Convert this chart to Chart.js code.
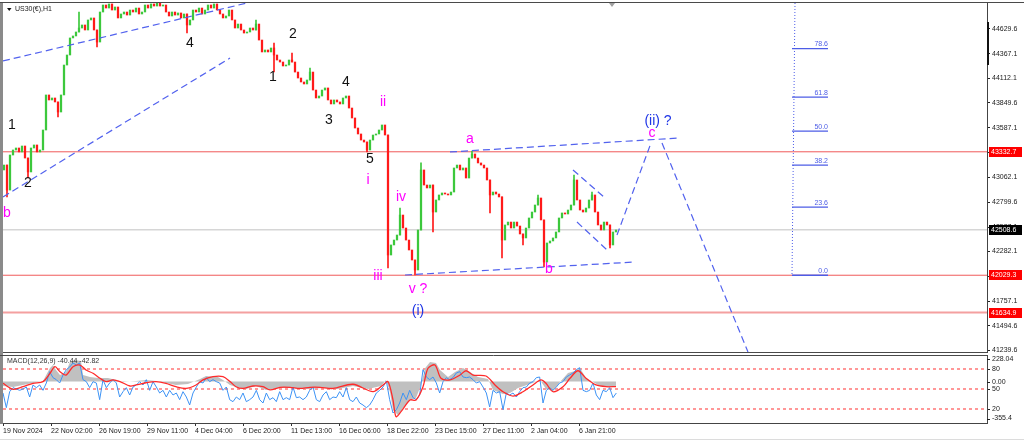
<!DOCTYPE html>
<html>
<head>
<meta charset="utf-8">
<script src="https://cdn.jsdelivr.net/npm/chart.js@4.4.1/dist/chart.umd.min.js"></script>
<style>
    body { margin: 0; background: #fff; width: 1024px; height: 441px; overflow: hidden; position: relative; }
    #main { position: absolute; left: 0; top: 0; }
    #macd { position: absolute; left: 0; top: 353px; }
</style>
</head>
<body>
<canvas id="main" width="1024" height="353"></canvas>
<canvas id="macd" width="1024" height="88"></canvas>
<script>
// ---------- data ----------
var dateLabels = ['19 Nov 2024', '22 Nov 02:00', '26 Nov 19:00', '29 Nov 11:00', '4 Dec 04:00', '6 Dec 20:00',
    '11 Dec 13:00', '16 Dec 06:00', '18 Dec 22:00', '23 Dec 15:00', '27 Dec 11:00', '2 Jan 04:00', '6 Jan 21:00'];
var BARS_PER_LABEL = 48;   // hourly bars between two date labels
var BARS_PER_CANDLE = 3;   // each drawn candle groups 3 hourly bars

var priceTicks = [44629.6, 44367.1, 44112.1, 43849.6, 43587.1, 43324.6, 43062.1, 42799.6, 42537.1,
    42282.1, 42019.6, 41757.1, 41494.6, 41239.6];

var firstOpen = 43141;
var closes = [
    43193, 42929, 43299, 43352, 43373, 43331, 43394, 43267, 43120, 43373,
    43405, 43331, 43352, 43563, 43933, 43880, 43901, 43859, 43753, 43933,
    44249, 44355, 44535, 44556, 44598, 44640, 44672, 44619, 44725, 44746,
    44619, 44492, 44809, 44883, 44851, 44894, 44830, 44862, 44746, 44788,
    44809, 44777, 44830, 44809, 44851, 44788, 44809, 44883, 44851, 44894,
    44872, 44904, 44872, 44883, 44809, 44767, 44809, 44777, 44799, 44746,
    44788, 44672, 44725, 44830, 44809, 44851, 44788, 44830, 44883, 44851,
    44894, 44830, 44788, 44746, 44767, 44830, 44725, 44640, 44682, 44619,
    44587, 44598, 44640, 44619, 44682, 44513, 44387, 44408, 44387, 44429,
    44355, 44302, 44281, 44239, 44249, 44302, 44281, 44175, 44112, 44070,
    44049, 44091, 44175, 43985, 43901, 43922, 43985, 44007, 43880, 43838,
    43880, 43859, 43838, 43901, 43922, 43795, 43690, 43584, 43521, 43457,
    43436, 43352, 43457, 43510, 43521, 43563, 43616, 43510, 42243, 42349,
    42401, 42454, 42665, 42528, 42401, 42296, 42190, 42085, 42507, 43141,
    42982, 42951, 42982, 42697, 42824, 42877, 42898, 42887, 42877, 42908,
    43162, 43193, 43141, 43162, 43056, 43267, 43310, 43267, 43215, 43193,
    43162, 43035, 42877, 42908, 42887, 42856, 42401, 42560, 42591, 42528,
    42591, 42549, 42465, 42423, 42528, 42634, 42697, 42771, 42845, 42613,
    42169, 42370, 42391, 42423, 42486, 42634, 42687, 42676, 42718, 42771,
    43035, 42824, 42718, 42697, 42739, 42824, 42877, 42697, 42560, 42507,
    42591, 42560, 42349, 42486, 42507
];
// long wicks, by candle number
var spikeLow = { 1: 42856, 8: 43056, 18: 43700, 31: 44440, 61: 44587, 90: 44175, 121: 43331, 128: 42106,
    137: 42032, 143: 42486, 162: 42687, 166: 42211, 173: 42349, 180: 42116, 202: 42317 };
var spikeHigh = { 25: 44809, 84: 44725, 90: 44482, 96: 44376, 102: 44218, 132: 42739, 139: 43215,
    156: 43341, 178: 42877, 190: 43088, 196: 42908 };

var redLevels = [43332.7, 42029.3];
var softRedLevel = 41634.9;
var lastPrice = 42508.6;

var fibLow = 42029.3, fibHigh = 45073;
var fibLevels = [0, 23.6, 38.2, 50, 61.8, 78.6];

// [ [bar, price], [bar, price] ]
var trendLines = [
    [[0, 44292], [244, 44904]],
    [[0, 42856], [227, 44323]],
    [[447, 43331], [677, 43479]],
    [[402, 42032], [632, 42169]],
    [[570, 43141], [602, 42845]],
    [[574, 42591], [604, 42296]],
    [[614, 42454], [648, 43426]],
    [[659, 43426], [745, 41219]]
];

// [text, bar, price, kind]
var waveLabels = [
    ['1', 9, 43616, 'black'], ['2', 25, 43003, 'black'], ['4', 187, 44482, 'black'],
    ['1', 270, 44123, 'black'], ['2', 290, 44577, 'black'], ['3', 326, 43669, 'black'],
    ['4', 343, 44070, 'black'], ['5', 367, 43257, 'black'],
    ['b', 4, 42686, 'pink'], ['ii', 380, 43859, 'pink'], ['i', 365, 43035, 'pink'],
    ['iv', 398, 42856, 'pink'], ['iii', 375, 42021, 'pink'], ['v ?', 415, 41884, 'pink'],
    ['a', 467, 43468, 'pink'], ['b', 546, 42095, 'pink'], ['c', 649, 43531, 'pink'],
    ['(i)', 415, 41652, 'blue'], ['(ii) ?', 655, 43658, 'blue']
];

// MACD window: [bar, value]
var macdMain = [[0, -38], [10, -47], [20, -29], [30, -12], [40, 5], [47, 117], [50, 142], [53, 99], [57, 56],
    [63, 82], [67, 168], [72, 185], [78, 177], [80, 56], [87, 39], [95, 31], [105, 31], [113, 14], [120, -3],
    [133, 5], [143, 14], [153, 5], [163, -12], [173, -29], [185, -21], [197, 22], [203, 48], [215, 39],
    [220, 14], [227, -29], [233, -47], [243, -64], [253, -38], [263, -72], [275, -55], [290, -55], [305, -64],
    [320, -55], [335, -64], [350, -38], [365, -64], [378, -38], [383, 14], [387, -89], [390, -244], [395, -287],
    [400, -227], [407, -158], [413, -141], [418, -29], [422, 114], [427, 168], [433, 159], [437, 99], [445, 39],
    [452, 82], [460, 117], [467, 82], [475, 39], [485, 22], [490, -72], [500, -107], [507, -98], [515, -55],
    [527, -21], [537, 14], [543, -64], [550, -81], [557, -3], [565, 74], [572, 91], [577, 117], [583, 31],
    [590, -3], [597, -38], [605, -47], [613, -40]];
var macdSignal = [[0, -15], [10, -66], [20, -44], [30, -15], [40, 0], [47, 71], [52, 128], [57, 85], [63, 56],
    [70, 128], [77, 142], [83, 99], [90, 71], [97, 28], [103, 0], [110, 14], [117, 0], [127, -38], [133, -29],
    [143, -10], [153, 0], [163, -15], [173, -44], [183, -59], [193, -29], [200, 14], [210, 42], [220, 42],
    [227, 0], [233, -44], [240, -59], [250, -38], [260, -44], [267, -72], [277, -49], [287, -49], [297, -59],
    [307, -49], [317, -49], [330, -59], [350, -23], [370, -87], [380, -29], [385, 0], [390, -158], [393, -301],
    [398, -258], [407, -158], [413, -158], [420, -44], [425, 114], [432, 142], [438, 28], [447, 14], [457, 56],
    [463, 93], [470, 56], [483, 48], [492, -29], [500, -87], [510, -124], [520, -87], [530, -29], [538, 14],
    [543, -15], [550, -87], [560, -44], [567, 28], [575, 93], [583, 28], [593, -29], [603, -44], [613, -43]];
var STOCH_STEP = 10 / 3;
var stochLine = [
    44, 22, 46, 52, 50, 48, 50, 53, 38, 56, 52, 56, 48, 59, 76, 67, 64, 59, 71, 79,
    83, 89, 86, 89, 64, 61, 52, 61, 59, 34, 64, 52, 59, 64, 59, 38, 46, 52, 41, 53,
    56, 61, 56, 64, 48, 61, 53, 44, 48, 38, 48, 41, 44, 34, 46, 38, 26, 44, 53, 61,
    59, 67, 61, 64, 61, 59, 48, 53, 34, 31, 38, 34, 44, 31, 34, 38, 48, 34, 29, 44,
    34, 37, 31, 46, 34, 37, 34, 53, 37, 38, 34, 38, 48, 53, 34, 31,
    41, 46, 34, 38, 37, 46, 38, 52, 34, 31, 38, 29, 26, 22, 26, 34, 44, 48, 53, 62,
    34, 14, 19, 29, 44, 34, 48, 37, 34, 41, 79, 68, 64, 68, 59, 44, 61, 67, 64, 67,
    74, 76, 68, 67, 68, 64, 59, 61, 53, 44, 23, 48, 44, 46, 19, 44, 41, 44, 38, 46,
    52, 53, 59, 61, 67, 68, 29, 48, 52, 48, 53, 59, 61, 68, 71, 74, 79, 82, 48, 46,
    48, 59, 41, 34, 48, 46, 52, 37, 44
];
var stochLevels = [80, 50, 20];
var macdAxisLabels = [228.04, 0, -355.4];

// ---------- look ----------
var FONT = '"Liberation Sans", Arial, sans-serif';
Chart.defaults.font.family = FONT;
Chart.defaults.font.size = 7;
Chart.defaults.color = '#1a1a1a';

var X_MAX = 984;
var PRICE_MIN = 41218.7, PRICE_MAX = 44904.1;
var waveColors = { black: '#111111', pink: '#ff00ff', blue: '#1f35e6' };
var UP = '#3cc83c', DOWN = '#ff1a1a', TREND = '#5262ee';

function noPad(s) { s.paddingTop = 0; s.paddingBottom = 0; s.paddingLeft = 0; s.paddingRight = 0; }

function seg(points, color, width, dash, order) {
    return {
        type: 'line',
        data: points.map(function (p) { return { x: p[0], y: p[1] }; }),
        borderColor: color, borderWidth: width, borderDash: dash || [],
        pointRadius: 0, fill: false, tension: 0, order: order
    };
}

// candles: body from previous close to close, thin wick where a spike was read
var bodies = [], wicks = [], bodyColors = [], wickColors = [];
closes.forEach(function (c, i) {
    var o = i ? closes[i - 1] : firstOpen;
    var col = c >= o ? UP : DOWN;
    var x = 1 + i * BARS_PER_CANDLE;
    bodies.push({ x: x, y: [Math.min(o, c), Math.max(o, c)] });
    bodyColors.push(col);
    if (spikeLow[i] !== undefined || spikeHigh[i] !== undefined) {
        var lo = Math.min(o, c, spikeLow[i] !== undefined ? spikeLow[i] : c);
        var hi = Math.max(o, c, spikeHigh[i] !== undefined ? spikeHigh[i] : c);
        wicks.push({ x: x, y: [lo, hi] });
        wickColors.push(col);
    }
});

var mainSets = [];
mainSets.push(seg([[0, lastPrice], [X_MAX, lastPrice]], '#d6d6d6', 1.5, null, 9));
redLevels.forEach(function (v) { mainSets.push(seg([[0, v], [X_MAX, v]], '#f05a5a', 1, null, 8)); });
mainSets.push(seg([[0, softRedLevel], [X_MAX, softRedLevel]], '#f4a0a0', 2, null, 8));
mainSets.push({ type: 'bar', data: wicks, backgroundColor: wickColors, barThickness: 1, grouped: false, order: 3 });
mainSets.push({ type: 'bar', data: bodies, backgroundColor: bodyColors, barThickness: 1.6, grouped: false, minBarLength: 1, order: 2 });
trendLines.forEach(function (l) { mainSets.push(seg(l, TREND, 1.2, [7, 4], 1)); });
mainSets.push(seg([[792, PRICE_MAX], [789, fibLow]], '#4a5ae8', 1, [1, 2], 1));
fibLevels.forEach(function (f) {
    var v = fibLow + f / 100 * (fibHigh - fibLow);
    mainSets.push(seg([[789, v], [825, v]], '#4d5de6', 1.3, null, 1));
});

var mainOverlay = {
    id: 'mainOverlay',
    afterDraw: function (chart) {
        var ctx = chart.ctx, xs = chart.scales.x, ys = chart.scales.y, a = chart.chartArea;
        ctx.save();
        // frame
        ctx.fillStyle = '#8a8a8a';
        ctx.fillRect(0, 2, 3, chart.height - 2);
        ctx.strokeStyle = '#4a4a4a';
        ctx.lineWidth = 1;
        ctx.beginPath();
        ctx.moveTo(0, 2.5); ctx.lineTo(1024, 2.5);
        ctx.moveTo(a.left, a.bottom + 0.5); ctx.lineTo(a.right, a.bottom + 0.5);
        ctx.stroke();
        ctx.fillStyle = '#111';
        ctx.fillRect(a.right, 22, 2, 43);

        // symbol caption
        ctx.beginPath();
        ctx.moveTo(7, 8); ctx.lineTo(11.5, 8); ctx.lineTo(9.25, 11); ctx.closePath();
        ctx.fill();
        ctx.font = '7px ' + FONT;
        ctx.textAlign = 'left';
        ctx.textBaseline = 'middle';
        ctx.fillStyle = '#222';
        ctx.fillText('US30(\u20ac),H1', 15, 9.5);

        // chart shift marker
        ctx.fillStyle = '#a0a0a0';
        ctx.beginPath();
        ctx.moveTo(609, 3); ctx.lineTo(615, 3); ctx.lineTo(612, 7); ctx.closePath();
        ctx.fill();

        // fibonacci level labels
        ctx.font = '7px ' + FONT;
        ctx.textAlign = 'right';
        ctx.textBaseline = 'bottom';
        ctx.fillStyle = '#4d5de6';
        fibLevels.forEach(function (f) {
            var v = fibLow + f / 100 * (fibHigh - fibLow);
            ctx.fillText(f.toFixed(1), xs.getPixelForValue(825), ys.getPixelForValue(v) - 1);
        });

        // wave counts
        ctx.font = '14px ' + FONT;
        ctx.textAlign = 'center';
        ctx.textBaseline = 'middle';
        waveLabels.forEach(function (l) {
            ctx.fillStyle = waveColors[l[3]];
            ctx.fillText(l[0], xs.getPixelForValue(l[1]), ys.getPixelForValue(l[2]));
        });

        // price boxes on the axis
        ctx.font = '7px ' + FONT;
        ctx.textAlign = 'left';
        function box(v, bg) {
            var y = Math.round(ys.getPixelForValue(v));
            ctx.fillStyle = bg;
            ctx.fillRect(a.right + 2, y - 5, 33, 10);
            ctx.fillStyle = '#fff';
            ctx.fillText(v.toFixed(1), a.right + 4, y + 0.5);
        }
        redLevels.forEach(function (v) { box(v, '#ff0000'); });
        box(softRedLevel, '#ff0000');
        box(lastPrice, '#000000');
        ctx.restore();
    }
};

new Chart(document.getElementById('main'), {
    type: 'bar',
    data: { datasets: mainSets },
    options: {
        responsive: false,
        animation: false,
        events: [],
        layout: { padding: { left: 3, top: 3, right: 0, bottom: 1 } },
        plugins: { legend: { display: false }, tooltip: { enabled: false } },
        scales: {
            x: { type: 'linear', min: 0, max: X_MAX, offset: false, display: false },
            y: {
                position: 'right',
                min: PRICE_MIN,
                max: PRICE_MAX,
                afterBuildTicks: function (s) { s.ticks = priceTicks.map(function (v) { return { value: v }; }); },
                afterFit: function (s) { s.width = 37; noPad(s); },
                grid: { drawOnChartArea: false, tickLength: 3, color: '#222' },
                border: { color: '#444' },
                ticks: { padding: 2, color: '#1a1a1a', callback: function (v) { return v.toFixed(1); } }
            }
        }
    },
    plugins: [mainOverlay]
});

// ---------- MACD window ----------
function pairs(arr) { return arr.map(function (p) { return { x: p[0], y: p[1] }; }); }

var macdSets = [];
stochLevels.forEach(function (v) {
    var d = seg([[0, v], [X_MAX, v]], '#ff3030', 1, [3, 3], 5);
    d.yAxisID = 'stoch';
    macdSets.push(d);
});
macdSets.push({
    type: 'line', data: pairs(macdMain), yAxisID: 'macd', borderWidth: 0, pointRadius: 0,
    backgroundColor: '#c0c0c0', fill: 'origin', tension: 0, order: 4
});
macdSets.push({
    type: 'line', data: pairs(macdSignal), yAxisID: 'macd', borderColor: '#ff2a2a', borderWidth: 1.3,
    pointRadius: 0, fill: false, tension: 0.3, order: 2
});
macdSets.push({
    type: 'line', data: stochLine.map(function (v, i) { return { x: i * STOCH_STEP, y: v }; }), yAxisID: 'stoch',
    borderColor: '#3d93f5', borderWidth: 1, pointRadius: 0, fill: false, tension: 0, order: 3
});

var macdOverlay = {
    id: 'macdOverlay',
    afterDraw: function (chart) {
        var ctx = chart.ctx, ms = chart.scales.macd, a = chart.chartArea;
        ctx.save();
        ctx.fillStyle = '#8a8a8a';
        ctx.fillRect(0, 0, 3, a.bottom + 1);
        ctx.strokeStyle = '#4a4a4a';
        ctx.lineWidth = 1;
        ctx.beginPath();
        ctx.moveTo(0, a.top + 0.5); ctx.lineTo(a.right, a.top + 0.5);
        ctx.stroke();
        ctx.strokeStyle = '#dcdcdc';
        ctx.beginPath();
        ctx.moveTo(0, 86.5); ctx.lineTo(1024, 86.5);
        ctx.stroke();

        ctx.font = '7px ' + FONT;
        ctx.fillStyle = '#333';
        ctx.textAlign = 'left';
        ctx.textBaseline = 'middle';
        ctx.fillText('MACD(12,26,9) -40.44 -42.82', 7, 8);

        // macd scale labels share the right axis with the level labels
        ctx.fillStyle = '#1a1a1a';
        ctx.strokeStyle = '#222';
        macdAxisLabels.forEach(function (v, i) {
            var y = ms.getPixelForValue(v);
            var base = i === 0 ? 'top' : (i === macdAxisLabels.length - 1 ? 'bottom' : 'middle');
            var ty = base === 'top' ? y + 1 : (base === 'bottom' ? y - 1 : y);
            ctx.textBaseline = base;
            ctx.fillText(v.toFixed(2).replace('-355.40', '-355.4'), a.right + 5, ty);
            var my = Math.round(base === 'top' ? y + 4 : (base === 'bottom' ? y - 4 : y)) + 0.5;
            ctx.beginPath(); ctx.moveTo(a.right, my); ctx.lineTo(a.right + 3, my); ctx.stroke();
        });
        ctx.restore();
    }
};

new Chart(document.getElementById('macd'), {
    type: 'line',
    data: { datasets: macdSets },
    options: {
        responsive: false,
        animation: false,
        events: [],
        layout: { padding: { left: 3, top: 2, right: 0, bottom: 0 } },
        plugins: { legend: { display: false }, tooltip: { enabled: false } },
        scales: {
            x: {
                type: 'linear', min: 0, max: X_MAX,
                afterBuildTicks: function (s) {
                    s.ticks = dateLabels.map(function (_, k) { return { value: k * BARS_PER_LABEL }; });
                },
                afterFit: function (s) { s.height = 18; noPad(s); },
                grid: { drawOnChartArea: false, tickLength: 3, color: '#333' },
                border: { color: '#444' },
                ticks: {
                    align: 'start', autoSkip: false, maxRotation: 0, padding: 1, color: '#1a1a1a',
                    callback: function (v, i) { return dateLabels[i]; }
                }
            },
            stoch: {
                position: 'right', min: -1, max: 101,
                afterBuildTicks: function (s) { s.ticks = stochLevels.map(function (v) { return { value: v }; }); },
                afterFit: function (s) { s.width = 37; noPad(s); },
                grid: { drawOnChartArea: false, tickLength: 3, color: '#222' },
                border: { color: '#444' },
                ticks: { padding: 2, color: '#1a1a1a' }
            },
            macd: { position: 'right', min: -355.4, max: 228.04, display: false }
        }
    },
    plugins: [macdOverlay]
});
</script>
</body>
</html>
